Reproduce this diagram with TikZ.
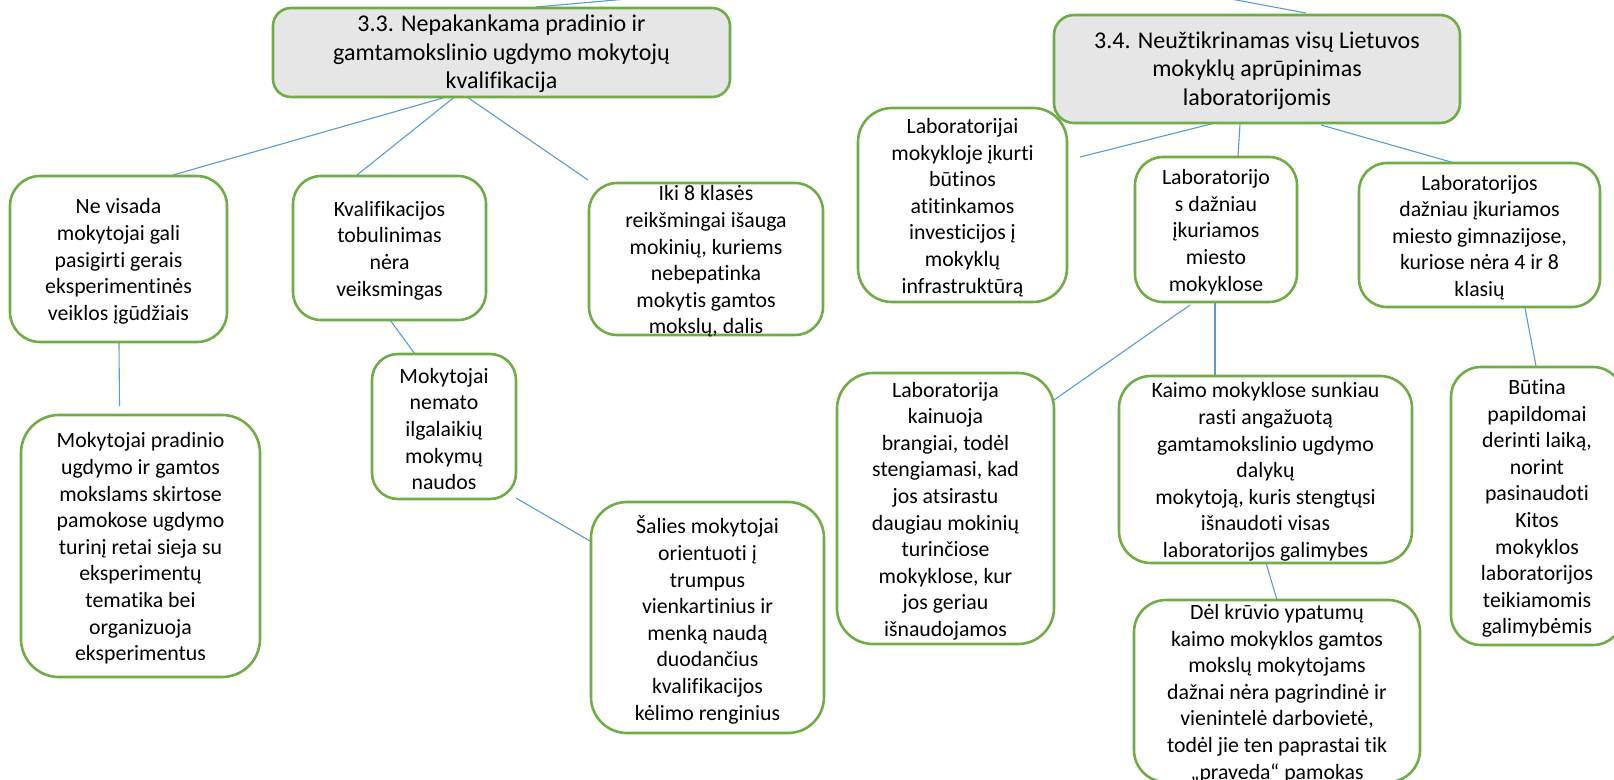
\documentclass[tikz,border=0pt]{standalone}
\usepackage{fontspec}
\setmainfont{Carlito}[Ligatures={NoCommon}]
\definecolor{bgreen}{HTML}{70AD47}
\definecolor{lblue}{HTML}{5B9BD5}
\definecolor{hgray}{HTML}{E7E6E6}
\tikzset{
  box/.style={draw=bgreen, line width=2.6pt, fill=white, inner sep=0pt},
  hbox/.style={box, fill=hgray},
  txt/.style={align=center, inner sep=0pt, yshift=-2.5pt, font=\fontsize{21.8}{26.6}\selectfont},
  htxt/.style={align=center, inner sep=0pt, yshift=-1.5pt, font=\fontsize{24}{28.4}\selectfont},
  conn/.style={draw=lblue, line width=1.1pt}
}
\begin{document}
\begin{tikzpicture}[x=1pt,y=-1pt]
\useasboundingbox (0,0) rectangle (1614,779);
\clip (0,0) rectangle (1614,779);
\fill[white] (0,0) rectangle (1614,779);

% connector end points
\coordinate (a1) at (536,7);    \coordinate (a2) at (650,-3);
\coordinate (b1) at (1306,13);  \coordinate (b2) at (1220,-3);
\coordinate (c1) at (457,94);   \coordinate (c2) at (173,175);
\coordinate (d1) at (462,91);   \coordinate (d2) at (357,175);
\coordinate (e1) at (467,97);   \coordinate (e2) at (588,180);
\coordinate (f1) at (119,343);  \coordinate (f2) at (119.5,406);
\coordinate (g1) at (390,320);  \coordinate (g2) at (415,354);
\coordinate (h1) at (516,498);  \coordinate (h2) at (590,541);
\coordinate (i1) at (1215,123); \coordinate (i2) at (1080,157);
\coordinate (j1) at (1240,124); \coordinate (j2) at (1238,156);
\coordinate (k1) at (1321,125); \coordinate (k2) at (1451,162);
\coordinate (l1) at (1190,305); \coordinate (l2) at (1054,400);
\coordinate (m1) at (1215,302); \coordinate (m2) at (1215,376);
\coordinate (n1) at (1525,308); \coordinate (n2) at (1536,366);
\coordinate (o1) at (1266,563); \coordinate (o2) at (1277,600);

\foreach \p/\q in {a1/a2,b1/b2,c1/c2,d1/d2,e1/e2,f1/f2,g1/g2,h1/h2,i1/i2,j1/j2,k1/k2,l1/l2,m1/m2,n1/n2,o1/o2}
  \draw[conn] (\p) -- (\q);

% boxes
\node[hbox, rounded corners=18pt, minimum width=457pt, minimum height=89pt] (h33) at (501.5,52.5) {};
\node[htxt] (h33t) at (h33) {3.3. Nepakankama pradinio ir\\gamtamokslinio ugdymo mokytojų\\kvalifikacija};

\node[hbox, rounded corners=20pt, minimum width=406pt, minimum height=108pt] (h34) at (1257,69) {};
\node[htxt] (h34t) at (h34) {3.4. Neužtikrinamas visų Lietuvos\\mokyklų aprūpinimas\\laboratorijomis};

\node[box, rounded corners=30pt, minimum width=217pt, minimum height=166pt] (nv) at (118.5,259) {};
\node[txt] (nvt) at (nv) {Ne visada\\mokytojai gali\\pasigirti gerais\\eksperimentinės\\veiklos įgūdžiais};

\node[box, rounded corners=28pt, minimum width=193pt, minimum height=144pt] (kv) at (389.5,248) {};
\node[txt] (kvt) at (kv) {Kvalifikacijos\\tobulinimas\\nėra\\veiksmingas};

\node[box, rounded corners=28pt, minimum width=234pt, minimum height=152pt] (iki) at (706,259) {};
\node[txt] (ikit) at (iki) {Iki 8 klasės\\reikšmingai išauga\\mokinių, kuriems\\nebepatinka\\mokytis gamtos\\mokslų, dalis};

\node[box, rounded corners=38pt, minimum width=239pt, minimum height=262pt] (mp) at (140.5,546) {};
\node[txt] (mpt) at (mp) {Mokytojai pradinio\\ugdymo ir gamtos\\mokslams skirtose\\pamokose ugdymo\\turinį retai sieja su\\eksperimentų\\tematika bei\\organizuoja\\eksperimentus};

\node[box, rounded corners=26pt, minimum width=144pt, minimum height=145pt] (mn) at (444,426.5) {};
\node[txt] (mnt) at (mn) {Mokytojai\\nemato\\ilgalaikių\\mokymų\\naudos};

\node[box, rounded corners=36pt, minimum width=233pt, minimum height=231pt] (sal) at (707.5,617.5) {};
\node[txt] (salt) at (sal) {Šalies mokytojai\\orientuoti į\\trumpus\\vienkartinius ir\\menką naudą\\duodančius\\kvalifikacijos\\kėlimo renginius};

\node[box, rounded corners=34pt, minimum width=209pt, minimum height=194pt] (lai) at (962.5,205) {};
\node[txt] (lait) at (lai) {Laboratorijai\\mokykloje įkurti\\būtinos\\atitinkamos\\investicijos į\\mokyklų\\infrastruktūrą};

\node[box, rounded corners=28pt, minimum width=162pt, minimum height=145pt] (lao) at (1216,229.5) {};
\node[txt] (laot) at (lao) {Laboratorijo\\s dažniau\\įkuriamos\\miesto\\mokyklose};

\node[box, rounded corners=28pt, minimum width=241pt, minimum height=144pt] (los) at (1479.5,235) {};
\node[txt] (lost) at (los) {Laboratorijos\\dažniau įkuriamos\\miesto gimnazijose,\\kuriose nėra 4 ir 8\\klasių};

\node[box, rounded corners=36pt, minimum width=217pt, minimum height=271pt] (lk) at (945.5,508.5) {};
\node[txt] (lkt) at (lk) {Laboratorija\\kainuoja\\brangiai, todėl\\stengiamasi, kad\\jos atsirastu\\daugiau mokinių\\turinčiose\\mokyklose, kur\\jos geriau\\išnaudojamos};

\node[box, rounded corners=32pt, minimum width=293pt, minimum height=187pt] (km) at (1265.5,469.5) {};
\node[txt] (kmt) at (km) {Kaimo mokyklose sunkiau\\rasti angažuotą\\gamtamokslinio ugdymo\\dalykų\\mokytoją, kuris stengtųsi\\išnaudoti visas\\laboratorijos galimybes};

\node[box, rounded corners=32pt, minimum width=286pt, minimum height=182pt] (del) at (1277,691) {};
\node[txt] (delt) at (del) {Dėl krūvio ypatumų\\kaimo mokyklos gamtos\\mokslų mokytojams\\dažnai nėra pagrindinė ir\\vienintelė darbovietė,\\todėl jie ten paprastai tik\\„praveda“ pamokas};

\node[box, rounded corners=30pt, minimum width=172pt, minimum height=278pt] (but) at (1537,506) {};
\node[txt] (butt) at (but) {Būtina\\papildomai\\derinti laiką,\\norint\\pasinaudoti\\Kitos\\mokyklos\\laboratorijos\\teikiamomis\\galimybėmis};
\end{tikzpicture}
\end{document}
